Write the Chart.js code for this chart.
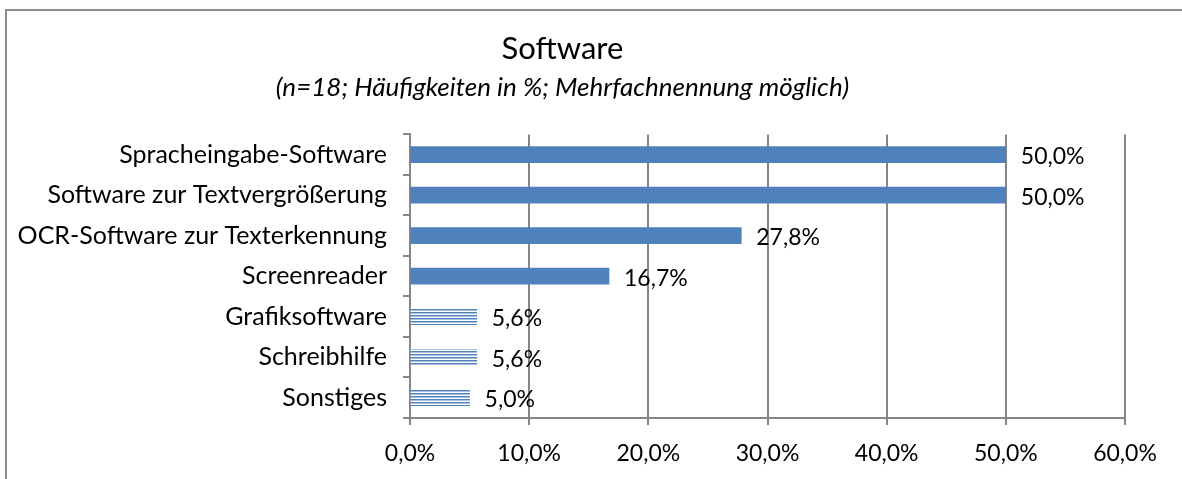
<!DOCTYPE html>
<html>
<head>
<meta charset="utf-8">
<script src="https://cdn.jsdelivr.net/npm/chart.js@4.4.0/dist/chart.umd.min.js"></script>
<style>
  body { margin: 0; background: #fff; overflow: hidden; }
  #frame { position: absolute; left: 5px; top: 9px; width: 1200px; height: 500px; border: 2px solid #8c8c8c; box-sizing: border-box; }
  #wrap { position: absolute; left: 0; top: 0; width: 1182px; height: 479px; }
</style>
</head>
<body>
<div id="frame"></div>
<div id="wrap"><canvas id="myChart" width="1182" height="479"></canvas></div>
<script>
const categories = [
  "Spracheingabe-Software",
  "Software zur Textvergrößerung",
  "OCR-Software zur Texterkennung",
  "Screenreader",
  "Grafiksoftware",
  "Schreibhilfe",
  "Sonstiges"
];
const values = [50.0, 50.0, 27.8, 16.7, 5.6, 5.6, 5.0];
const striped = [false, false, false, false, true, true, true];
const xTicks = [0, 10, 20, 30, 40, 50, 60];

const FONT = "Lato, 'Open Sans', sans-serif";

// horizontal stripes for the small bars
function makeStripes() {
  const c = document.createElement("canvas");
  c.width = 4;
  c.height = 3;
  const g = c.getContext("2d");
  g.fillStyle = "#4F81BD"; g.fillRect(0, 0, 4, 1);
  g.fillStyle = "#A9C0DF"; g.fillRect(0, 1, 4, 1);
  g.fillStyle = "#FFFFFF"; g.fillRect(0, 2, 4, 1);
  return g.createPattern(c, "repeat");
}

function fmt(v) {
  return v.toFixed(1).replace(".", ",") + "%";
}

// value labels after each bar
const valueLabels = {
  id: "valueLabels",
  afterDatasetsDraw(chart) {
    const ctx = chart.ctx;
    const meta = chart.getDatasetMeta(0);
    ctx.save();
    ctx.font = "23px " + FONT;
    ctx.fillStyle = "#000";
    ctx.textBaseline = "middle";
    ctx.textAlign = "left";
    meta.data.forEach((bar, i) => {
      ctx.fillText(fmt(values[i]), bar.x + 15, bar.y + 2);
    });
    ctx.restore();
  }
};

const stripes = makeStripes();

new Chart(document.getElementById("myChart"), {
  type: "bar",
  data: {
    labels: categories,
    datasets: [{
      data: values,
      backgroundColor: striped.map(s => s ? stripes : "#4F81BD"),
      borderWidth: 0,
      barThickness: 16
    }]
  },
  options: {
    indexAxis: "y",
    responsive: false,
    animation: false,
    layout: { padding: { left: 0, right: 57, top: 12, bottom: 0 } },
    plugins: {
      legend: { display: false },
      tooltip: { enabled: false },
      title: {
        display: true,
        text: "Software",
        color: "#000",
        font: { family: FONT, size: 31, weight: "normal" },
        padding: { top: 18, bottom: 5 }
      },
      subtitle: {
        display: true,
        text: "(n=18; Häufigkeiten in %; Mehrfachnennung möglich)",
        color: "#000",
        font: { family: FONT, size: 26, style: "italic" },
        padding: { bottom: 31 }
      }
    },
    scales: {
      x: {
        min: 0,
        max: 60,
        afterBuildTicks(scale) {
          scale.ticks = xTicks.map(v => ({ value: v }));
        },
        afterFit(scale) { scale.height = 61; },
        ticks: {
          color: "#000",
          font: { family: FONT, size: 23 },
          padding: 15,
          callback: v => fmt(v)
        },
        grid: { color: "#868686", lineWidth: 2, tickLength: 7 },
        border: { color: "#868686", width: 2 }
      },
      y: {
        afterFit(scale) { scale.width = 410; },
        ticks: {
          color: "#000",
          font: { family: FONT, size: 25 },
          padding: 16
        },
        grid: { color: "#868686", lineWidth: 2, tickLength: 7, drawOnChartArea: false, offset: true },
        border: { color: "#868686", width: 2 }
      }
    }
  },
  plugins: [valueLabels]
});
</script>
</body>
</html>
